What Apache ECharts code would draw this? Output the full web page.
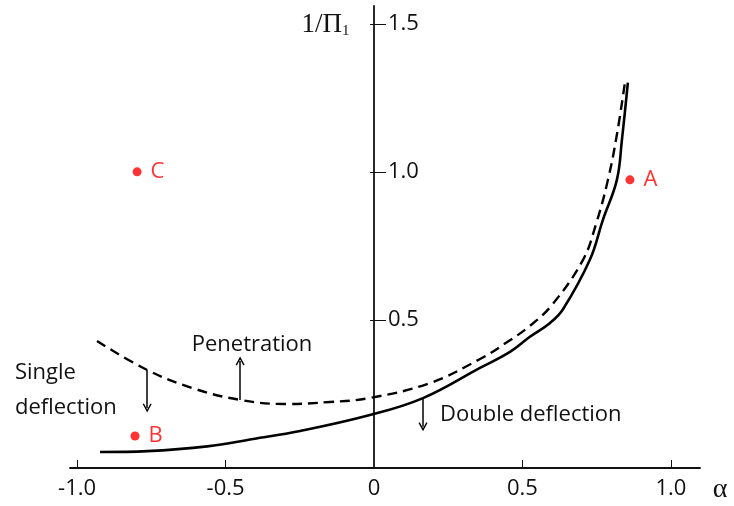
<!DOCTYPE html>
<html>
<head>
<meta charset="utf-8">
<script src="https://cdn.jsdelivr.net/npm/echarts@6/dist/echarts.min.js"></script>
<style>
  html, body { margin: 0; padding: 0; background: #fff; }
  #chart { width: 734px; height: 506px; }
</style>
</head>
<body>
<div id="chart"></div>
<script>
// solid curve (double deflection boundary)
const solidAlpha = [-0.923, -0.764, -0.562, -0.407, -0.249, -0.017, 0.165, 0.357, 0.458, 0.525, 0.593, 0.636, 0.727, 0.771, 0.818, 0.835, 0.855];
const solidInvPi = [0.054, 0.057, 0.073, 0.098, 0.125, 0.178, 0.236, 0.338, 0.392, 0.443, 0.490, 0.535, 0.703, 0.838, 0.973, 1.108, 1.301];
// dashed curve (penetration boundary)
const dashedAlpha = [-0.933, -0.764, -0.603, -0.451, -0.300, -0.148, -0.017, 0.189, 0.357, 0.441, 0.525, 0.599, 0.704, 0.747, 0.788, 0.818, 0.845];
const dashedInvPi = [0.429, 0.331, 0.267, 0.230, 0.216, 0.223, 0.236, 0.287, 0.368, 0.420, 0.480, 0.550, 0.703, 0.821, 0.973, 1.125, 1.301];
// marked points
const pointNames = ['A', 'B', 'C'];
const pointAlpha = [0.862, -0.805, -0.798];
const pointInvPi = [0.973, 0.108, 1.0];
// arrows between regions
const arrowAlpha = [-0.764, -0.451, 0.165];
const arrowFrom = [0.331, 0.230, 0.236];
const arrowTo = [0.203, 0.361, 0.139];
// ticks
const xTicks = [-1, -0.5, 0.5, 1];
const xLabels = [-1, -0.5, 0, 0.5, 1];
const yTicks = [0.5, 1, 1.5];

const font = '"Open Sans", sans-serif';
const chevron = 'path://M0,10 L5,0 L10,10 L8.6,10.9 L5,3.6 L1.4,10.9 Z';
const fmt = v => (v === 0 ? '0' : v.toFixed(1));

const gridLeft = 70, gridRight = 34;
const xMin = -1.024, xMax = 1.098;
// move the y axis from the grid's left edge to alpha = 0
const plotW = 734 - gridLeft - gridRight;
const yOffset = -(0 - xMin) * plotW / (xMax - xMin);

const chart = echarts.init(document.getElementById('chart'));

const xBase = {
  type: 'value', min: xMin, max: xMax,
  axisLine: { onZero: false, lineStyle: { color: '#111', width: 1.8 } },
  splitLine: { show: false }
};
const yBase = {
  type: 'value', min: 0, max: 1.56, position: 'left', offset: yOffset,
  axisLine: { onZero: false, lineStyle: { color: '#111', width: 1.8 } },
  splitLine: { show: false }
};

chart.setOption({
  animation: false,
  grid: { left: gridLeft, right: gridRight, top: 6, bottom: 38, containLabel: false, outerBoundsMode: 'none' },
  xAxis: [
    Object.assign({}, xBase, {
      axisTick: { inside: true, length: 8, customValues: xTicks, lineStyle: { color: '#111', width: 1 } },
      axisLabel: { customValues: xLabels, formatter: fmt, margin: 10, fontSize: 22, fontFamily: font, color: '#111' }
    }),
    Object.assign({}, xBase, {
      axisLine: { show: false },
      axisTick: { length: 4, customValues: xTicks, lineStyle: { color: '#111', width: 1 } },
      axisLabel: { show: false }
    })
  ],
  yAxis: [
    Object.assign({}, yBase, {
      axisTick: { inside: true, length: 12, customValues: yTicks, lineStyle: { color: '#111', width: 1 } },
      axisLabel: { inside: true, customValues: yTicks, formatter: fmt, margin: 14, fontSize: 22, fontFamily: font, color: '#111' }
    }),
    Object.assign({}, yBase, {
      axisLine: { show: false, onZero: false },
      axisTick: { length: 4, customValues: yTicks, lineStyle: { color: '#111', width: 1 } },
      axisLabel: { show: false }
    })
  ],
  series: [
    {
      type: 'line',
      data: solidAlpha.map((a, i) => [a, solidInvPi[i]]),
      smooth: 0.4, showSymbol: false,
      lineStyle: { color: '#000', width: 2.6 }
    },
    {
      type: 'line',
      data: dashedAlpha.map((a, i) => [a, dashedInvPi[i]]),
      smooth: 0.4, showSymbol: false,
      lineStyle: { color: '#000', width: 2.4, type: [10, 6] }
    },
    {
      type: 'scatter',
      data: pointNames.map((n, i) => ({ name: n, value: [pointAlpha[i], pointInvPi[i]] })),
      symbolSize: 9,
      itemStyle: { color: '#f00' },
      label: {
        show: true, position: 'right', distance: 9,
        formatter: p => p.name, color: '#f00', fontSize: 22, fontFamily: font
      },
      markLine: {
        silent: true,
        symbol: ['none', chevron],
        symbolSize: [9, 9],
        label: { show: false },
        lineStyle: { color: '#000', width: 1.5, type: 'solid' },
        data: arrowAlpha.map((a, i) => [{ coord: [a, arrowFrom[i]] }, { coord: [a, arrowTo[i]] }])
      }
    }
  ],
  graphic: [
    { type: 'text', style: { text: 'Penetration', x: 252, y: 345, textAlign: 'center', textVerticalAlign: 'middle', font: '22px ' + font, fill: '#111' } },
    { type: 'text', style: { text: 'Single', x: 15, y: 373, textVerticalAlign: 'middle', font: '22px ' + font, fill: '#111' } },
    { type: 'text', style: { text: 'deflection', x: 15, y: 408, textVerticalAlign: 'middle', font: '22px ' + font, fill: '#111' } },
    { type: 'text', style: { text: 'Double deflection', x: 440, y: 415, textVerticalAlign: 'middle', font: '22px ' + font, fill: '#111' } },
    { type: 'text', style: { text: '1/Π', x: 342, y: 25, textAlign: 'right', textVerticalAlign: 'middle', font: '27px "Liberation Serif", serif', fill: '#111' } },
    { type: 'text', style: { text: '1', x: 342, y: 31, textVerticalAlign: 'middle', font: '15px "Liberation Serif", serif', fill: '#111' } },
    { type: 'text', style: { text: 'α', x: 720, y: 490, textAlign: 'center', textVerticalAlign: 'middle', font: '28px "Liberation Serif", serif', fill: '#111' } }
  ]
});
</script>
</body>
</html>
